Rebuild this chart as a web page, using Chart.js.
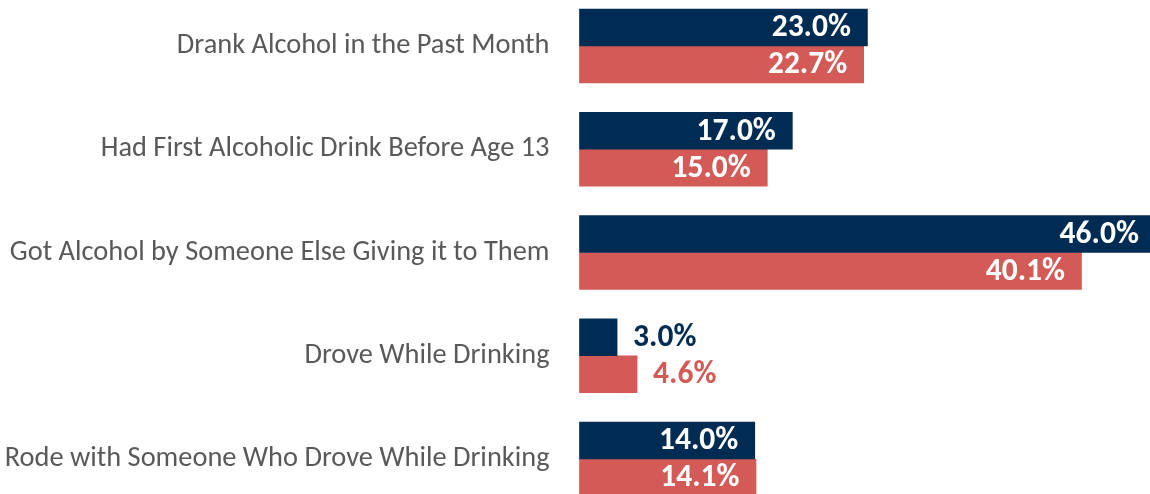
<!DOCTYPE html>
<html><head><meta charset="utf-8">
<script src="https://cdn.jsdelivr.net/npm/chart.js@4.4.0/dist/chart.umd.min.js"></script>
<style>body{margin:0;background:#fff}#wrap{width:1150px;height:494px;position:relative}</style>
</head><body>
<div id="wrap"><canvas id="c" width="1150" height="494"></canvas></div>
<script>
const categories = ["Drank Alcohol in the Past Month","Had First Alcoholic Drink Before Age 13","Got Alcohol by Someone Else Giving it to Them","Drove While Drinking","Rode with Someone Who Drove While Drinking"];
const seriesA = [23.0, 17.0, 46.0, 3.0, 14.0];
const seriesB = [22.7, 15.0, 40.1, 4.6, 14.1];

const NAVY = '#002C54', RED = '#D35A57';
const FONT = 'Carlito, Calibri, "Liberation Sans Narrow", sans-serif';
const labelPlugin = {
  id: 'vals',
  afterDatasetsDraw(chart) {
    const ctx = chart.ctx;
    ctx.save();
    ctx.font = 'bold 31.5px ' + FONT;
    ctx.textBaseline = 'middle';
    chart.data.datasets.forEach((ds, di) => {
      chart.getDatasetMeta(di).data.forEach((bar, i) => {
        const txt = ds.data[i].toFixed(1) + '%';
        const w = ctx.measureText(txt).width;
        const len = bar.x - bar.base;
        if (w + 32 <= len) { ctx.fillStyle = '#fff'; ctx.textAlign = 'right'; ctx.fillText(txt, bar.x - 16.5, bar.y + 1); }
        else { ctx.fillStyle = ds.backgroundColor; ctx.textAlign = 'left'; ctx.fillText(txt, bar.x + 16, bar.y + 1); }
      });
    });
    ctx.restore();
  }
};
new Chart(document.getElementById('c'), {
  type: 'bar',
  data: { labels: categories, datasets: [
    { data: seriesA, backgroundColor: NAVY, barThickness: 37, clip: false },
    { data: seriesB, backgroundColor: RED, barThickness: 37, clip: false }
  ]},
  options: {
    indexAxis: 'y', responsive: false, animation: false,
    layout: { padding: { top: 46, bottom: 35, left: 0, right: 0 } },
    plugins: { legend: { display: false }, tooltip: { enabled: false } },
    scales: {
      x: { display: false, min: 0, max: 45.57 },
      y: { offset: false, grid: { display: false, drawTicks: false }, border: { display: false },
           ticks: { color: '#595959', padding: 30, font: { family: FONT, size: 28.4 } },
           afterFit(s) { s.width = 579.5; s.paddingTop = 0; s.paddingBottom = 0; } }
    }
  },
  plugins: [labelPlugin]
});
</script></body></html>
